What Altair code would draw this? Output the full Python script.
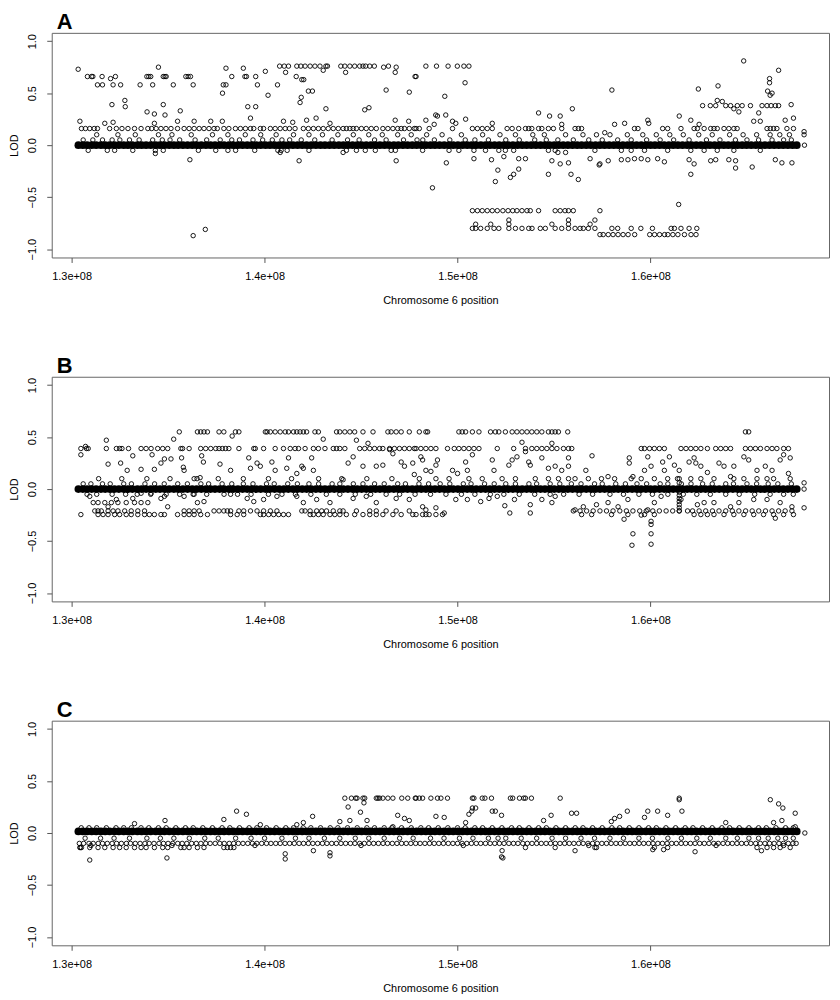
import altair as alt
import pandas as pd

FONT = "Liberation Sans"

# ---------------- shared marker positions forming the dense LOD ~ 0 band (Mb) -------------
BAND_MB = [
    130.35, 130.58, 130.8, 131.04, 131.27, 131.52, 131.74, 131.97, 132.22, 132.45, 132.7, 132.92,
    133.15, 133.41, 133.63, 133.86, 134.1, 134.36, 134.58, 134.81, 135.06, 135.3, 135.52, 135.77,
    136.01, 136.25, 136.48, 136.72, 136.96, 137.2, 137.43, 137.67, 137.9, 138.15, 138.38, 138.62,
    138.86, 139.1, 139.33, 139.57, 139.8, 140.05, 140.28, 140.52, 140.76, 141.0, 141.23, 141.47,
    141.71, 141.95, 142.18, 142.42, 142.66, 142.9, 143.13, 143.37, 143.61, 143.85, 144.08, 144.32,
    144.56, 144.8, 145.03, 145.27, 145.51, 145.75, 145.98, 146.22, 146.46, 146.7, 146.93, 147.17,
    147.41, 147.65, 147.88, 148.12, 148.36, 148.6, 148.83, 149.07, 149.31, 149.55, 149.78, 150.02,
    150.26, 150.5, 150.73, 150.97, 151.21, 151.45, 151.68, 151.92, 152.16, 152.4, 152.63, 152.87,
    153.11, 153.35, 153.58, 153.82, 154.06, 154.3, 154.53, 154.77, 155.01, 155.25, 155.48, 155.72,
    155.96, 156.2, 156.43, 156.67, 156.91, 157.15, 157.38, 157.62, 157.86, 158.1, 158.33, 158.57,
    158.81, 159.05, 159.28, 159.52, 159.76, 160.0, 160.23, 160.47, 160.71, 160.95, 161.18, 161.42,
    161.66, 161.9, 162.13, 162.37, 162.61, 162.85, 163.08, 163.32, 163.56, 163.8, 164.03, 164.27,
    164.51, 164.75, 164.98, 165.22, 165.46, 165.7, 165.93, 166.17, 166.41, 166.65, 166.88, 167.12,
    167.36, 167.58]
PANELS = ["A", "B", "C"]
BAND_LOD = [0.0, 0.0, 0.015]

# ---------------- panel A ----------------
A_076 = [140.78, 141.02, 141.24, 141.67, 141.88, 142.1, 142.36, 142.61, 142.87, 143.18, 143.26,
         143.95, 144.16, 144.42, 144.67, 144.93, 145.1, 145.24, 145.45, 145.69, 146.42,
         148.36, 148.91, 149.51, 149.99, 150.33, 150.59]
A_066 = [130.82, 131.03, 131.1, 131.58, 132.27, 133.9, 134.0, 134.1, 134.75, 134.84, 134.9,
         135.92, 136.04, 136.16, 138.3, 138.98, 139.06, 139.54, 141.64, 147.8, 147.85]
A_058 = [131.34, 131.6, 132.15, 132.54, 133.55, 134.2, 135.27, 136.3, 137.86, 138.0, 139.63, 140.67]
A_038 = [162.7, 163.1, 163.38, 163.9, 164.15, 164.5, 164.75, 165.18, 165.78, 166.04, 166.25,
         166.47, 166.64]
A_016 = [130.51, 130.72, 130.94, 131.17, 131.34, 131.97, 132.32, 132.61, 132.92, 133.26, 133.6,
         133.95, 134.15, 134.38, 134.63, 134.89, 135.15, 135.49, 135.83, 136.09, 136.35, 136.61,
         136.86, 137.12, 137.38, 137.55, 137.89, 138.15, 138.49, 138.75, 139.01, 139.27, 139.44,
         139.78, 139.95, 140.3, 140.55, 140.81, 141.07, 141.29, 141.58, 142.01, 142.27, 142.53,
         142.79, 143.04, 143.3, 143.56, 143.82, 144.07, 144.24, 144.42, 144.59, 144.76, 145.02,
         145.27, 145.53, 145.79, 146.13, 146.39, 146.65, 146.9, 147.08, 147.25, 147.5, 147.76,
         147.85, 148.02, 148.53, 149.74, 150.77, 151.03, 151.28, 151.54, 151.8, 152.57, 152.83,
         153.17, 153.52, 153.69, 153.85, 154.2, 154.37, 154.71, 154.97, 155.4, 156.09, 156.26,
         156.43, 159.17, 159.35, 160.63, 160.89, 161.58, 162.26, 162.43, 162.78, 163.12, 163.29,
         163.46, 163.81, 164.06, 164.32, 164.49, 166.04, 166.21, 166.38, 166.55, 167.07, 167.41]
A_010 = [131.3, 132.4, 133.3, 134.5, 135.2, 136.2, 137.3, 138.1, 139.0, 139.8, 140.6, 141.5,
         142.3, 143.0, 143.8, 144.6, 145.4, 146.1, 146.9, 147.6, 148.4, 149.2, 150.2, 151.3,
         152.2, 153.0, 153.9, 154.5, 155.6, 156.5, 157.2, 157.9, 158.8, 159.6, 160.3, 161.0,
         161.7, 162.5, 163.2, 164.1, 164.8, 165.5, 166.2, 166.7, 167.2]
A_005 = [130.6, 131.1, 131.6, 132.1, 132.5, 133.0, 133.5, 134.2, 134.7, 135.1, 135.6, 136.4,
         137.0, 137.7, 138.3, 138.7, 139.4, 139.9, 140.4, 140.9, 141.3, 141.9, 142.6, 143.5,
         144.3, 144.9, 145.7, 146.3, 147.2, 147.9, 148.2, 148.8, 149.6, 150.4, 150.9, 151.6,
         152.5, 153.2, 154.0, 154.6, 155.2, 156.0, 156.8, 157.5, 158.3, 159.0, 159.8, 160.5,
         161.2, 162.0, 162.9, 163.6, 164.4, 165.0, 165.6, 166.3, 166.9, 167.3]
A_M005 = [130.86, 131.85, 132.23, 133.17, 134.34, 134.75, 136.57, 137.47, 138.1, 138.5, 139.49,
          140.69, 140.86, 141.17, 142.3, 144.24, 144.76, 145.22, 145.74, 146.56, 146.78, 148.19,
          149.56, 150.07, 150.85, 151.45, 152.14, 152.48, 152.91, 154.71, 155.06, 157.12, 158.49,
          159.0, 159.69, 160.89, 162.09, 162.78, 163.46, 164.32, 165.69]
A_M063 = [150.77, 151.03, 151.28, 151.54, 151.8, 152.06, 152.35, 152.62, 152.86, 153.08, 153.34,
          153.6, 153.77, 154.2, 155.06, 155.32, 155.57, 155.75, 156.0, 157.38]
A_M080 = [150.77, 150.94, 151.2, 151.54, 151.89, 152.14, 152.66, 153.0, 153.34, 153.69, 153.86,
          154.29, 154.55, 155.06, 155.4, 155.75, 156.09, 156.35, 156.52, 156.78, 157.12, 158.0,
          158.3, 159.0, 159.5, 160.1, 161.07, 161.24, 161.58, 162.0, 162.4]
A_M086 = [157.38, 157.55, 157.81, 158.06, 158.32, 158.58, 158.84, 159.18, 159.96, 160.21, 160.47,
          160.73, 160.9, 161.16, 161.42, 161.76, 162.1, 162.36]
A_SCATTER = [
    (130.34, 0.73), (134.5, 0.75), (138.0, 0.74), (138.9, 0.74), (140.04, 0.71), (141.09, 0.70),
    (143.04, 0.72), (144.2, 0.70), (146.17, 0.75), (146.82, 0.75), (146.77, 0.70), (132.02, 0.64),
    (141.93, 0.63), (142.03, 0.63), (137.82, 0.50), (140.18, 0.48), (141.84, 0.41), (141.9, 0.46),
    (142.27, 0.52), (142.48, 0.52), (146.3, 0.53), (147.5, 0.51), (150.39, 0.60), (149.34, 0.47),
    (158.0, 0.53), (162.48, 0.54), (163.5, 0.57), (164.83, 0.81), (166.64, 0.72), (166.17, 0.64),
    (166.17, 0.60), (166.07, 0.52), (166.3, 0.50), (166.2, 0.48), (167.29, 0.39), (165.61, 0.31),
    (165.35, 0.23), (165.69, 0.23), (163.46, 0.43), (163.72, 0.42), (164.32, 0.35), (164.58, 0.32),
    (132.09, 0.39), (132.76, 0.43), (132.78, 0.37), (130.43, 0.23), (131.72, 0.21), (132.15, 0.22),
    (133.91, 0.32), (134.29, 0.30), (134.75, 0.39), (134.84, 0.29), (135.63, 0.33), (135.49, 0.23),
    (137.81, 0.23), (139.13, 0.37), (139.54, 0.37), (139.27, 0.26), (141.46, 0.22), (142.67, 0.26),
    (143.18, 0.35), (145.19, 0.34), (145.41, 0.36), (143.39, 0.21), (146.77, 0.24), (147.47, 0.23),
    (134.29, 0.21), (136.35, 0.23), (137.21, 0.23), (140.98, 0.23), (142.18, 0.24), (148.36, 0.24),
    (148.87, 0.29), (149.39, 0.29), (148.96, 0.28), (149.74, 0.23), (150.42, 0.25), (149.91, 0.21),
    (148.79, 0.20), (151.8, 0.21), (154.2, 0.31), (154.77, 0.28), (155.32, 0.28), (155.95, 0.35),
    (155.4, 0.20), (157.63, 0.12), (158.14, 0.20), (158.66, 0.21), (159.86, 0.24), (159.91, 0.21),
    (161.49, 0.28), (162.09, 0.24), (162.52, 0.20), (166.98, 0.24), (167.41, 0.26), (167.96, 0.13),
    (167.96, 0.10), (167.98, 0.0),
    (149.42, -0.17), (150.85, -0.13), (151.76, -0.14), (152.4, -0.11), (153.17, -0.13),
    (153.52, -0.13), (154.89, -0.15), (155.32, -0.18), (155.75, -0.17), (156.87, -0.13),
    (157.38, -0.18), (157.81, -0.15), (158.49, -0.14), (158.83, -0.14), (159.17, -0.13),
    (159.52, -0.13), (159.86, -0.14), (160.37, -0.13), (160.72, -0.16), (162.0, -0.14),
    (162.26, -0.18), (163.12, -0.15), (163.38, -0.14), (164.06, -0.14), (164.41, -0.15),
    (165.27, -0.21), (164.41, -0.22), (166.47, -0.14), (166.81, -0.17), (167.33, -0.17),
    (152.09, -0.24), (151.96, -0.35), (152.74, -0.31), (152.91, -0.28), (153.17, -0.23),
    (154.71, -0.28), (155.88, -0.28), (156.26, -0.33), (157.34, -0.19), (162.09, -0.28),
    (136.13, -0.14), (141.79, -0.15), (146.82, -0.15), (144.07, -0.07), (140.81, -0.07),
    (134.34, -0.08), (155.2, -0.07), (155.6, -0.07), (148.7, -0.41), (136.3, -0.87),
    (136.93, -0.81), (161.46, -0.57), (150.94, -0.76), (151.72, -0.76), (152.66, -0.76),
    (154.89, -0.76), (155.75, -0.76), (156.87, -0.76), (157.12, -0.72), (155.75, -0.72),
    (152.66, -0.72)]

# ---------------- panel B ----------------
B_055 = [135.58, 136.52, 136.69, 136.86, 137.04, 137.64, 137.89, 138.49, 138.67, 140.04, 140.13,
         140.3, 140.55, 140.81, 141.07, 141.24, 141.5, 141.67, 141.84, 142.01, 142.18, 142.61,
         142.79, 143.73, 143.9, 144.16, 144.42, 144.67, 145.1, 145.62, 146.39, 146.56, 146.82,
         147.08, 147.5, 148.02, 148.36, 148.45, 150.07, 150.24, 150.42, 150.77, 151.11, 151.71,
         151.96, 152.14, 152.48, 152.83, 153.08, 153.34, 153.6, 153.85, 154.11, 154.37, 154.71,
         154.89, 155.06, 155.23, 155.71, 164.92, 165.09]
B_039 = [130.48, 130.77, 130.86, 131.8, 132.32, 132.49, 132.61, 132.95, 133.6, 133.86, 134.12,
         134.46, 134.72, 134.98, 135.66, 135.75, 136.09, 136.69, 136.95, 137.21, 137.47, 137.64,
         137.81, 137.98, 138.15, 138.67, 139.44, 139.52, 139.95, 140.55, 140.98, 141.33, 141.58,
         141.76, 142.1, 142.53, 142.79, 143.13, 143.56, 143.73, 143.9, 144.16, 144.93, 145.19,
         145.45, 145.7, 145.96, 146.13, 146.48, 146.73, 146.99, 147.25, 147.5, 147.76, 147.85,
         148.1, 148.36, 148.62, 148.88, 149.48, 149.83, 150.07, 150.33, 150.59, 150.85, 151.11,
         152.06, 152.91, 153.52, 153.85, 154.11, 154.37, 154.63, 154.89, 155.15, 155.49, 155.75,
         155.92, 159.52, 159.69, 159.95, 160.2, 160.46, 160.72, 161.58, 161.84, 162.09, 162.35,
         162.61, 162.95, 163.38, 163.64, 163.9, 164.15, 164.92, 165.18, 165.44, 165.7, 166.04,
         166.3, 166.55, 166.9, 167.15]
B_010 = [131.4, 132.6, 133.9, 135.1, 136.5, 137.6, 138.9, 140.2, 141.4, 142.8, 144.0, 145.3,
         146.6, 148.02, 148.88, 149.56, 150.59, 151.28, 152.31, 153.0, 154.03, 154.71, 155.23,
         155.75, 156.09, 156.78, 157.46, 158.14, 159.0, 159.52, 160.2, 160.89, 161.4, 162.09,
         162.61, 163.29, 164.32, 164.84, 165.52, 166.04, 166.38, 167.24]
B_005 = [130.6, 131.0, 131.6, 132.0, 132.7, 133.1, 133.8, 134.3, 134.8, 135.5, 136.0, 136.7,
         137.1, 137.8, 138.3, 138.9, 139.4, 140.1, 140.5, 141.2, 141.7, 142.3, 142.8, 143.5,
         143.9, 144.6, 145.1, 145.7, 146.2, 146.9, 147.3, 148.0, 148.5, 149.1, 149.6, 150.3,
         150.7, 151.4, 151.9, 152.5, 153.0, 153.7, 154.1, 154.8, 155.3, 155.9, 156.4, 157.1,
         157.5, 158.2, 158.7, 159.3, 159.8, 160.5, 160.9, 161.6, 162.1, 162.7, 163.2, 163.9,
         164.3, 165.0, 165.5, 166.1, 166.6, 167.3]
B_M005 = [130.8, 131.3, 132.1, 132.8, 133.4, 134.1, 134.9, 135.6, 136.3, 137.0, 137.9, 138.6,
          139.3, 140.2, 140.9, 141.6, 142.4, 143.2, 143.9, 144.7, 145.5, 146.3, 147.0, 147.8,
          148.6, 149.4, 150.2, 150.9, 151.7, 152.4, 153.2, 154.0, 154.8, 155.5, 156.3, 157.0,
          157.9, 158.6, 159.4, 160.1, 160.9, 161.7, 162.4, 163.1, 163.9, 164.6, 165.4, 166.2,
          166.9, 167.4]
B_M013 = [131.12, 131.37, 131.72, 132.06, 132.4, 132.83, 133.26, 133.6, 133.95]
B_M021 = [131.2, 131.37, 131.54, 131.89, 132.15, 132.4, 132.75, 133.09, 133.43, 133.78, 135.83,
          136.09, 136.35, 136.61, 137.38, 137.64, 137.89, 138.07, 138.24, 138.67, 138.92, 139.27,
          139.61, 139.95, 140.3, 140.64, 141.93, 142.1, 142.36, 142.7, 142.96, 143.21, 143.56,
          143.9, 144.07, 144.76, 145.45, 145.79, 146.3, 146.82, 147.5, 156.0, 156.35, 156.69,
          157.03, 157.38, 157.72, 158.06, 158.41, 158.75, 159.09, 159.44, 159.78, 160.12, 160.46,
          160.81, 161.15, 161.49, 161.92, 162.18, 162.52, 162.86, 163.21, 163.55, 163.9, 164.24,
          164.58, 164.93, 165.27, 165.61, 165.96, 166.3, 166.64, 166.98, 167.33]
B_M024 = [130.48, 131.37, 131.63, 131.89, 132.23, 132.49, 132.83, 133.09, 133.43, 133.78, 134.03,
          134.29, 134.63, 134.81, 135.49, 135.83, 136.09, 136.35, 136.69, 137.04, 138.24, 138.58,
          138.92, 139.78, 139.95, 140.21, 140.47, 140.73, 140.98, 141.24, 142.36, 142.53, 142.79,
          143.04, 143.39, 143.64, 143.9, 144.24, 144.67, 145.1, 145.45, 145.79, 146.13, 146.65,
          147.08, 147.68, 147.85, 148.19, 148.36, 148.53, 148.88, 149.22, 156.43, 156.95, 157.98,
          158.83, 159.69, 160.2, 162.26, 162.61, 162.95, 163.29, 163.81, 164.32, 164.84, 165.35,
          165.86, 166.38, 166.9, 167.41]
B_SCATTER = [
    (130.48, 0.33), (130.72, 0.41), (131.8, 0.47), (131.89, 0.24), (132.54, 0.25), (132.88, 0.18),
    (133.17, 0.32), (133.6, 0.19), (134.29, 0.19), (134.17, 0.33), (134.63, 0.25), (134.81, 0.29),
    (135.15, 0.29), (135.29, 0.48), (135.7, 0.30), (135.79, 0.21), (135.83, 0.18), (136.35, 0.10),
    (136.74, 0.32), (136.83, 0.26), (136.66, 0.11), (137.69, 0.24), (138.24, 0.18), (138.32, 0.51),
    (139.18, 0.30), (139.27, 0.20), (139.61, 0.25), (139.78, 0.22), (140.38, 0.26), (140.55, 0.18),
    (141.15, 0.20), (141.24, 0.30), (141.67, 0.15), (141.93, 0.22), (142.01, 0.20), (142.44, 0.30),
    (142.53, 0.18), (143.04, 0.48), (144.07, 0.09), (144.33, 0.25), (144.59, 0.31), (144.76, 0.47),
    (145.1, 0.22), (145.36, 0.44), (145.79, 0.22), (146.13, 0.23), (146.48, 0.38), (146.65, 0.34),
    (147.08, 0.26), (147.25, 0.22), (147.68, 0.25), (147.76, 0.14),
    (130.94, -0.07), (131.89, -0.17), (132.32, -0.10), (132.92, -0.01), (133.17, -0.09),
    (133.6, -0.04), (134.12, -0.04), (134.63, -0.09), (134.81, -0.07), (134.98, -0.17),
    (135.83, -0.07), (136.35, -0.05), (136.52, -0.13), (136.86, -0.12), (138.24, -0.05),
    (139.1, -0.09), (139.44, -0.12), (139.95, -0.10), (140.64, -0.07), (141.67, -0.07),
    (142.01, -0.13), (142.7, -0.10), (143.39, -0.13), (144.59, -0.09), (145.27, -0.07),
    (145.79, -0.13), (146.82, -0.09), (147.5, -0.10),
    (148.1, 0.31), (148.19, 0.28), (148.36, 0.18), (148.62, 0.17), (148.88, 0.23), (148.96, 0.28),
    (149.74, 0.18), (150.0, 0.15), (150.42, 0.26), (150.51, 0.18), (150.77, 0.33), (151.8, 0.28),
    (151.89, 0.18), (152.66, 0.23), (152.83, 0.28), (153.08, 0.31), (153.34, 0.45), (153.52, 0.36),
    (153.69, 0.26), (153.77, 0.23), (154.37, 0.30), (154.71, 0.20), (154.89, 0.44), (155.06, 0.22),
    (155.4, 0.18), (155.75, 0.30), (155.75, 0.22), (156.65, 0.18), (156.97, 0.32), (157.8, 0.12),
    (158.9, 0.30), (158.9, 0.25), (159.09, 0.12), (159.69, 0.18), (159.86, 0.31), (160.03, 0.22),
    (160.63, 0.26), (160.72, 0.18), (160.98, 0.31), (161.24, 0.23), (161.49, 0.18), (162.0, 0.26),
    (162.26, 0.30), (162.35, 0.25), (162.61, 0.22), (162.95, 0.16), (163.55, 0.25), (163.81, 0.22),
    (164.15, 0.12), (164.32, 0.22), (164.84, 0.31), (165.09, 0.28), (165.52, 0.18), (165.95, 0.22),
    (166.3, 0.18), (166.72, 0.28), (166.9, 0.33), (167.24, 0.30), (167.15, 0.15), (167.96, 0.06),
    (167.96, 0.0),
    (148.19, -0.17), (148.36, -0.20), (148.88, -0.18), (149.31, -0.23), (149.91, -0.10),
    (150.51, -0.10), (151.2, -0.12), (151.63, -0.09), (152.06, -0.07), (152.45, -0.16),
    (152.71, -0.23), (152.95, -0.10), (153.77, -0.15), (153.77, -0.23), (154.37, -0.10),
    (154.89, -0.13), (155.06, -0.07), (156.09, -0.20), (156.52, -0.17), (157.2, -0.15),
    (157.8, -0.13), (158.32, -0.17), (158.63, -0.29), (158.83, -0.10), (159.09, -0.43),
    (159.04, -0.54), (159.52, -0.25), (159.86, -0.20), (160.03, -0.31), (160.03, -0.34),
    (160.03, -0.43), (160.03, -0.53), (160.2, -0.13), (160.55, -0.07), (161.58, -0.10),
    (162.43, -0.15), (162.78, -0.13), (163.29, -0.13), (164.15, -0.17), (164.58, -0.13),
    (165.35, -0.10), (166.04, -0.10), (166.47, -0.28), (166.72, -0.13), (167.33, -0.17),
    (167.96, -0.18),
    (161.49, 0.10), (161.49, 0.06), (161.49, -0.03), (161.49, -0.06), (161.49, -0.09),
    (161.49, -0.12), (161.49, -0.15), (161.49, -0.18), (161.49, -0.21)]

# ---------------- panel C ----------------
C_033 = [144.16, 144.5, 144.72, 144.79, 145.1, 145.19, 145.79, 145.87, 145.96, 146.13, 146.39,
         146.65, 147.11, 147.42, 147.81, 147.85, 148.02, 148.19, 148.62, 148.96, 149.14, 149.48,
         150.77, 150.85, 151.28, 151.42, 151.76, 152.74, 152.86, 153.21, 153.43, 153.52, 153.83,
         155.32, 161.49]
C_005 = [130.5, 130.9, 131.3, 131.8, 132.3, 132.7, 133.1, 133.6, 134.0, 134.5, 134.9, 135.4,
         135.9, 136.3, 136.8, 137.3, 137.8, 138.2, 138.7, 139.2, 139.6, 140.1, 140.6, 141.1,
         141.5, 142.0, 142.4, 142.9, 143.4, 143.8, 144.3, 144.8, 145.3, 145.7, 146.2, 146.6,
         147.1, 147.6, 148.1, 148.5, 149.0, 149.5, 150.0, 150.4, 150.9, 151.3, 151.8, 152.3,
         152.8, 153.2, 153.7, 154.2, 154.6, 155.1, 155.6, 156.1, 156.5, 157.0, 157.5, 158.0,
         158.4, 158.9, 159.4, 159.9, 160.3, 160.8, 161.3, 161.8, 162.2, 162.7, 163.2, 163.7,
         164.1, 164.6, 165.1, 165.6, 166.0, 166.5, 167.0, 167.4]
C_M005 = [130.7, 131.5, 132.2, 133.0, 133.9, 134.6, 135.3, 136.1, 136.9, 137.6, 138.5, 139.3,
          140.0, 140.9, 141.6, 142.3, 143.1, 143.9, 144.7, 145.4, 146.2, 147.0, 147.7, 148.6,
          149.3, 150.1, 150.8, 151.6, 152.1, 152.5, 153.3, 154.1, 154.9, 155.6, 156.4, 157.1,
          157.9, 158.6, 159.4, 160.1, 160.9, 161.6, 162.4, 163.1, 163.9, 164.5, 165.1, 165.6,
          166.1, 166.6, 167.0, 167.4]
C_M010 = [130.4, 130.62, 130.9, 131.12, 131.38, 131.6, 131.85, 132.1, 132.33, 132.58, 132.84,
          133.05, 133.3, 133.55, 133.8, 134.02, 134.27, 134.53, 134.76, 135.0, 135.24, 135.5,
          135.73, 135.97, 136.22, 136.46, 136.7, 136.95, 137.18, 137.44, 137.68, 137.91, 138.17,
          138.4, 138.64, 138.88, 139.13, 139.37, 139.6, 139.85, 140.1, 140.33, 140.58, 140.81,
          141.06, 141.3, 141.54, 141.79, 142.02, 142.27, 142.5, 142.75, 143.0, 143.23, 143.48,
          143.72, 143.96, 144.2, 144.45, 144.68, 144.93, 145.17, 145.41, 145.65, 145.9, 146.14,
          146.37, 146.62, 146.86, 147.1, 147.34, 147.58, 147.83, 148.06, 148.31, 148.55, 148.79,
          149.03, 149.27, 149.52, 149.76, 150.0, 150.24, 150.48, 150.72, 150.97, 151.2, 151.45,
          151.69, 151.93, 152.17, 152.41, 152.66, 152.9, 153.13, 153.38, 153.62, 153.86, 154.1,
          154.34, 154.59, 154.82, 155.07, 155.31, 155.55, 155.79, 156.03, 156.28, 156.51, 156.76,
          157.0, 157.24, 157.48, 157.72, 157.96, 158.21, 158.44, 158.69, 158.93, 159.17, 159.41,
          159.65, 159.9, 160.13, 160.38, 160.62, 160.86, 161.1, 161.34, 161.59, 161.82, 162.07,
          162.31, 162.55, 162.79, 163.03, 163.28, 163.51, 163.76, 164.0, 164.24, 164.48, 164.72,
          164.97, 165.2, 165.45, 165.69, 165.93, 166.17, 166.41, 166.66, 166.89, 167.14, 167.38,
          167.55]
C_M014 = [130.43, 130.51, 130.94, 131.37, 131.72, 132.15, 132.49, 132.83, 133.26, 133.6, 133.86,
          134.29, 134.72, 134.98, 135.66, 135.83, 136.09, 136.52, 136.86, 137.89, 138.07, 138.24,
          138.41, 153.52, 155.06, 157.12, 160.2, 160.89, 165.52, 166.04, 166.38, 166.72, 167.24]
C_SCATTER = [
    (144.33, 0.25), (144.97, 0.20), (145.15, 0.29), (145.31, 0.12), (146.9, 0.17), (147.25, 0.14),
    (138.55, 0.21), (139.06, 0.18), (134.84, 0.12), (142.49, 0.16), (137.89, 0.13), (133.26, 0.09),
    (143.9, 0.11), (144.42, 0.12), (147.5, 0.12), (139.78, 0.08), (146.65, 0.06), (142.01, 0.10),
    (141.67, 0.08), (150.59, 0.18), (150.77, 0.24), (150.94, 0.24), (150.74, 0.21), (151.8, 0.21),
    (151.96, 0.21), (152.28, 0.17), (155.91, 0.19), (156.17, 0.19), (158.8, 0.21), (159.86, 0.21),
    (160.37, 0.21), (160.89, 0.17), (161.63, 0.21), (161.49, 0.32), (166.21, 0.32), (166.64, 0.28),
    (166.86, 0.24), (167.5, 0.19), (166.81, 0.12), (148.88, 0.16), (149.31, 0.15), (150.42, 0.10),
    (158.14, 0.14), (158.4, 0.16), (154.85, 0.17), (154.46, 0.12), (157.97, 0.11), (159.69, 0.15),
    (163.9, 0.10), (166.38, 0.10), (167.5, 0.06), (168.0, 0.0),
    (130.94, -0.26), (134.94, -0.24), (141.07, -0.20), (141.07, -0.25), (143.39, -0.19),
    (143.39, -0.22), (142.53, -0.17), (152.28, -0.23), (152.35, -0.24), (152.31, -0.17),
    (156.09, -0.17), (162.31, -0.18), (165.75, -0.17), (160.12, -0.16), (160.68, -0.16),
    (157.2, -0.14), (130.45, -0.14), (131.0, -0.12), (135.2, -0.12), (139.5, -0.12),
    (145.0, -0.12), (150.3, -0.12), (156.8, -0.12), (163.4, -0.12), (166.9, -0.12)]

X_TICKS = [1.3e8, 1.4e8, 1.5e8, 1.6e8]
Y_TICKS = [-1.0, -0.5, 0.0, 0.5, 1.0]


def build(band_lod, rows, scatter):
    recs = [{"mb": m, "lod": band_lod, "kind": "band"} for m in BAND_MB]
    for lod, arr in rows:
        recs += [{"mb": m, "lod": lod, "kind": "pt"} for m in arr]
    recs += [{"mb": m, "lod": v, "kind": "pt"} for m, v in scatter]
    df = pd.DataFrame(recs)
    df["pos"] = df["mb"] * 1e6
    return df


DATA = {
    "A": build(BAND_LOD[0], [(0.76, A_076), (0.66, A_066), (0.58, A_058), (0.38, A_038),
                             (0.16, A_016), (0.10, A_010), (0.05, A_005), (-0.05, A_M005),
                             (-0.63, A_M063), (-0.80, A_M080), (-0.86, A_M086)], A_SCATTER),
    "B": build(BAND_LOD[1], [(0.55, B_055), (0.39, B_039), (0.10, B_010), (0.05, B_005),
                             (-0.05, B_M005), (-0.13, B_M013), (-0.21, B_M021),
                             (-0.245, B_M024)], B_SCATTER),
    "C": build(BAND_LOD[2], [(0.335, C_033), (0.05, C_005), (-0.05, C_M005), (-0.10, C_M010),
                             (-0.14, C_M014)], C_SCATTER),
}

x_enc = alt.X(
    "pos:Q",
    scale=alt.Scale(domain=[128.97e6, 169.252e6], nice=False, zero=False),
    axis=alt.Axis(values=X_TICKS, labelExpr="format(datum.value / 1e8, '.1f') + 'e+08'",
                  title="Chromosome 6 position", grid=False, domain=False, tickSize=5,
                  tickColor="#555555", labelPadding=8, titlePadding=13, labelFlush=False,
                  labelFont=FONT, titleFont=FONT, labelFontSize=11, titleFontSize=11,
                  titleFontWeight="normal", labelColor="black", titleColor="black"),
)
y_enc = alt.Y(
    "lod:Q",
    scale=alt.Scale(domain=[-1.08, 1.08], nice=False, zero=False),
    axis=alt.Axis(values=Y_TICKS, format=".1f", title="LOD", grid=False, domain=False,
                  tickSize=5, tickColor="#555555", labelAngle=270, labelAlign="center",
                  labelBaseline="bottom", labelPadding=9, titlePadding=7,
                  labelFont=FONT, titleFont=FONT, labelFontSize=11, titleFontSize=11,
                  titleFontWeight="normal", labelColor="black", titleColor="black"),
)


def panel(name):
    base = alt.Chart(DATA[name]).encode(x=x_enc, y=y_enc)
    band = base.transform_filter("datum.kind == 'band'").mark_circle(
        color="black", size=60, opacity=1)
    pts = base.transform_filter("datum.kind == 'pt'").mark_point(
        shape="circle", filled=False, color="black", size=20, strokeWidth=0.9, opacity=1)
    return alt.layer(band, pts).properties(
        width=782, height=226,
        title=alt.TitleParams(name, anchor="start", frame="group", fontSize=22,
                              fontWeight="bold", font=FONT, color="black", dx=5, offset=-1.5),
    )


chart = alt.vconcat(*[panel(p) for p in PANELS], spacing=120, bounds="flush").properties(
    padding={"left": 0, "top": 0, "right": 2, "bottom": 0}
).configure_view(stroke="#666666", strokeWidth=1)

chart.save("out.html", embed_options={"renderer": "svg", "actions": False})
